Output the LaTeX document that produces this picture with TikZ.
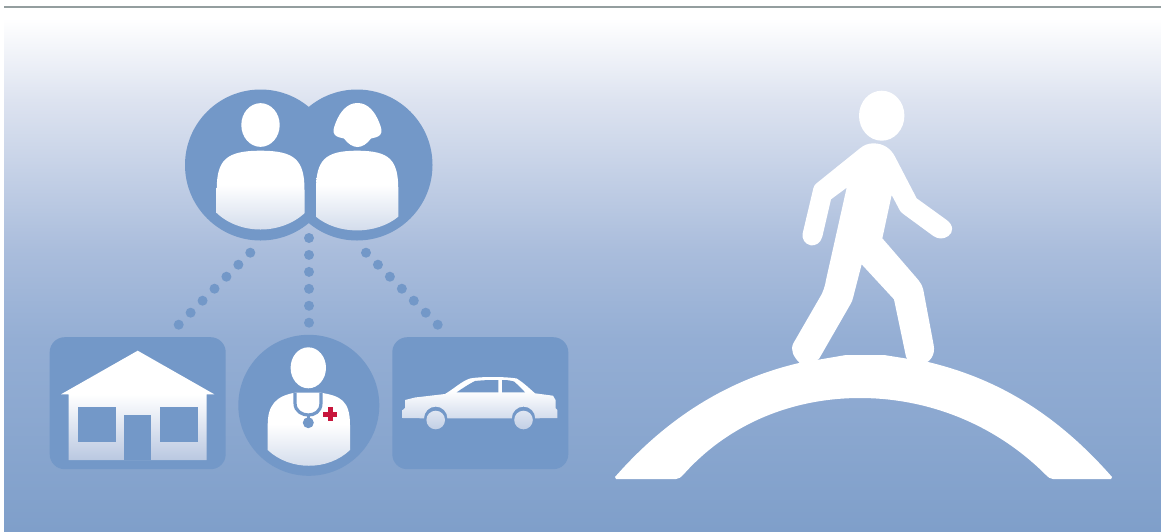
\documentclass[tikz,border=0pt]{standalone}
\usetikzlibrary{shapes.geometric,calc}
\definecolor{iconblue}{HTML}{7398C8}
\definecolor{crossred}{HTML}{C8163C}
\definecolor{rulegray}{HTML}{949E9F}
\definecolor{bgA}{HTML}{FFFFFF}
\definecolor{bgB}{HTML}{DDE3F0}
\definecolor{bgC}{HTML}{AABDDC}
\definecolor{bgD}{HTML}{94AED4}
\definecolor{bgE}{HTML}{7F9FCA}
\definecolor{fadeP}{HTML}{CFD9EA}
\definecolor{fadeH}{HTML}{BAC8E1}
\definecolor{fadeC}{HTML}{C2CFE5}
\pgfdeclareverticalshading{skyfade}{100bp}{color(0bp)=(bgE); color(25bp)=(bgE); color(43.3bp)=(bgD); color(51.9bp)=(bgC); color(66.2bp)=(bgB); color(74bp)=(bgA); color(100bp)=(bgA)}
\pgfdeclareverticalshading{personfade}{100bp}{color(0bp)=(fadeP); color(25bp)=(fadeP); color(55bp)=(white); color(100bp)=(white)}
\pgfdeclareverticalshading{housefade}{100bp}{color(0bp)=(fadeH); color(25bp)=(fadeH); color(55bp)=(white); color(100bp)=(white)}
\pgfdeclareverticalshading{carfade}{100bp}{color(0bp)=(fadeC); color(25bp)=(fadeC); color(62bp)=(white); color(100bp)=(white)}
\tikzset{
  iconcircle/.style={fill=iconblue,circle,inner sep=0pt,minimum size=#1},
  iconbox/.style={fill=iconblue,rounded corners=15pt,inner sep=0pt,minimum width=176pt,minimum height=132pt},
  headshape/.style={fill=white,ellipse,inner sep=0pt,minimum width=#1},
  linkdot/.style={fill=iconblue},
  bodyshade/.style={shading=personfade},
}
\begin{document}
\begin{tikzpicture}[x=1pt,y=-1pt]
\useasboundingbox (0,0) rectangle (1161,531);
% background
\path[shading=skyfade] (4,8) rectangle (1161,531);
\fill[rulegray] (4,5.7) rectangle (1161,8.3);

% couple
\node[iconcircle=151pt] (husband) at (260.5,165) {};
\node[iconcircle=151pt] (wife) at (357,165) {};
\node[headshape=38.4pt,minimum height=43.7pt] (husbandhead) at (260.5,125) {};
\path[bodyshade] (216.7,213) .. controls (240,235) and (281,235) .. (304.7,213)
  -- (304.5,190) .. controls (304.5,160) and (295,150.7) .. (260.5,150.7)
  .. controls (226,150.7) and (216.7,160) .. (216.7,190) -- cycle;
\fill[white] (357.5,103) .. controls (368,103) and (375,112) .. (379,122)
  .. controls (381,127) and (383,132) .. (380,135)
  .. controls (378,137) and (374,138) .. (371,138.5)
  .. controls (367,144) and (362,147) .. (357.5,147)
  .. controls (353,147) and (348,144) .. (344,138.5)
  .. controls (341,138) and (337,137) .. (335,135)
  .. controls (332,132) and (334,127) .. (336,122)
  .. controls (340,112) and (347,103) .. (357.5,103) -- cycle;
\path[bodyshade] (316,216.7) .. controls (338,235) and (376,235) .. (398.3,216.7)
  -- (398.3,190) .. controls (398.3,160) and (390,150.7) .. (357,150.7)
  .. controls (325,150.7) and (316,160) .. (316,190) -- cycle;

% house
\node[iconbox] (house) at (137.7,403.2) {};
\path[shading=housefade] (137.7,350.7) -- (214.3,394.3) -- (206.7,394.3) -- (206.7,460)
  -- (68.7,460) -- (68.7,394.3) -- (61,394.3) -- cycle;
\fill[iconblue] (77.7,406.7) rectangle (115.7,441.7);
\fill[iconblue] (160,406.7) rectangle (197.7,441.7);
\fill[iconblue] (124,415.3) rectangle (151.3,460);

% doctor
\node[iconcircle=141pt] (doctor) at (308.8,405.3) {};
\node[headshape=35.4pt,minimum height=41pt] (doctorhead) at (308.3,367.8) {};
\path[bodyshade] (267.7,450) .. controls (290,471) and (328,471) .. (350,450)
  -- (350,425) .. controls (350,400) and (340,396) .. (321,392.7)
  -- (295,392.7) .. controls (276,396) and (267.7,405) .. (267.7,425) -- cycle;
\draw[iconblue,line width=3.2pt] (295,392.7) -- (295,403) .. controls (295,412) and (303,415) .. (308.3,415)
  .. controls (314,415) and (321,412) .. (321,403) -- (321,392.7);
\draw[iconblue,line width=2.5pt] (308.3,415) -- (308.3,420);
\fill[iconblue] (308.3,422.7) circle[radius=5.5pt];
\fill[crossred] (323.3,412.1) rectangle (337.3,416.5);
\fill[crossred] (328.1,407.3) rectangle (332.5,421.3);

% car
\node[iconbox] (car) at (480.3,403.2) {};
\path[shading=carfade] (402.7,418) -- (402.7,410) -- (405,408) -- (405,400) -- (415,397.5)
  -- (445,394) .. controls (455,388) and (462,381) .. (470,378.5)
  .. controls (480,376.5) and (505,376.5) .. (516.7,378.5)
  .. controls (524,383) and (530,389) .. (535,393.3)
  -- (553,395.7) -- (555.5,400) -- (555.7,408.3) -- (557.3,410) -- (557.3,418)
  -- (535.2,418.3) arc[start angle=0,end angle=180,radius=11.7pt]
  -- (447.4,418.3) arc[start angle=0,end angle=180,radius=11.7pt] -- cycle
  (445,420) arc[start angle=0,end angle=360,radius=9.3pt]
  (532.8,420) arc[start angle=0,end angle=360,radius=9.3pt];
\fill[iconblue] (456.7,392.3) .. controls (463,388) and (469,384) .. (475,381) .. controls (485,380) and (488,380) .. (498.3,380) -- (498.3,392.3) -- cycle;
\fill[iconblue] (502,392.3) -- (502,380) .. controls (508,380) and (511,380.5) .. (514,381.5) .. controls (518,385) and (522,389) .. (525,392.3) -- cycle;

% dotted links
\coordinate (linkA) at (250.3,252.7);
\coordinate (linkAend) at (178.7,324.7);
\coordinate (linkB) at (309,238);
\coordinate (linkBend) at (309,322.7);
\coordinate (linkC) at (366,252.7);
\coordinate (linkCend) at (437.7,324.7);
\foreach \t in {0,...,6} {
  \fill[linkdot] ($(linkA)!\t/6!(linkAend)$) circle[radius=5pt];
  \fill[linkdot] ($(linkC)!\t/6!(linkCend)$) circle[radius=5pt];
}
\foreach \t in {0,...,5} {
  \fill[linkdot] ($(linkB)!\t/5!(linkBend)$) circle[radius=5pt];
}

% bridge
\fill[white] (615,477) .. controls (672,412) and (735,378) .. (799,363)
  -- (846,355) -- (884,355) -- (928,362)
  .. controls (995,378) and (1055,412) .. (1112,477)
  -- (1111,479) -- (1053,479) .. controls (1050,479) and (1048,477) .. (1046,475)
  .. controls (993,422) and (925,398) .. (860,398)
  .. controls (795,398) and (730,422) .. (683,475)
  .. controls (681,477) and (679,479) .. (676,479)
  -- (616,479) -- cycle;

% walker
\node[headshape=45.4pt,minimum height=50pt] (walkerhead) at (881.7,115.7) {};
\begin{scope}[shift={(770,80)},x=0.3333pt,y=-0.3333pt]
\fill[white] (310,190) .. controls (340,190) and (362,205) .. (375,230)
  -- (440,355) -- (530,420)
  .. controls (552,436) and (550,458) .. (535,468)
  .. controls (520,478) and (505,478) .. (490,468)
  -- (400,402) .. controls (395,398) and (392,395) .. (390,392)
  -- (365,345) -- (337,475)
  -- (445,600) .. controls (452,608) and (457,618) .. (460,630)
  -- (491,795) .. controls (497,825) and (480,850) .. (450,855)
  -- (420,855) -- (408,830)
  -- (372,658) -- (275,553) -- (250,650)
  .. controls (248,660) and (245,668) .. (240,675)
  -- (148,835) -- (120,860) -- (90,850)
  .. controls (70,830) and (60,810) .. (70,790)
  -- (148,655) .. controls (158,640) and (165,620) .. (168,600)
  -- (230,323) -- (183,358) -- (157,470)
  .. controls (152,490) and (135,498) .. (122,496)
  .. controls (105,492) and (95,478) .. (98,460)
  -- (130,325) .. controls (131,318) and (136,312) .. (142,308)
  -- (270,205) .. controls (282,195) and (295,190) .. (310,190) -- cycle;
\end{scope}
\end{tikzpicture}
\end{document}
